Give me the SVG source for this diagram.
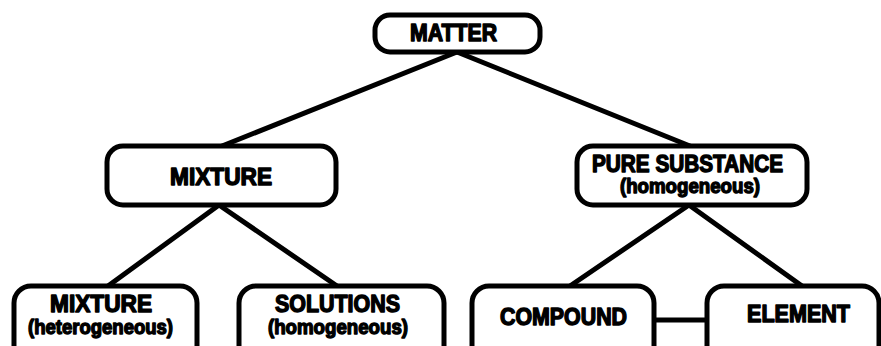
<svg xmlns="http://www.w3.org/2000/svg" width="881" height="346" viewBox="0 0 881 346">
<style>
.box{fill:#fff;stroke:#000;stroke-width:5}
.edge{stroke:#000;stroke-width:5;fill:none;stroke-linecap:round}
.t{font-family:"Liberation Sans","DejaVu Sans",sans-serif;font-weight:bold;font-size:23px;fill:#000;stroke:#000;stroke-width:1.4;stroke-linejoin:round}
.s{font-size:20px}
</style>
<rect width="881" height="346" fill="#fff"/>
<g id="connectors">
<line class="edge" x1="457" y1="52" x2="222" y2="146"/>
<line class="edge" x1="457" y1="52" x2="690" y2="146"/>
<line class="edge" x1="219" y1="205" x2="108" y2="286"/>
<line class="edge" x1="219" y1="205" x2="337" y2="286"/>
<line class="edge" x1="689" y1="205" x2="570" y2="286"/>
<line class="edge" x1="689" y1="205" x2="802" y2="286"/>
<line class="edge" x1="654" y1="320" x2="707" y2="320"/>
</g>
<g id="matter">
<rect class="box" x="375" y="15" width="165" height="37" rx="15"/>
<text class="t" x="410" y="41" textLength="87" lengthAdjust="spacingAndGlyphs">MATTER</text>
</g>
<g id="mixture">
<rect class="box" x="107" y="146" width="229" height="59" rx="16"/>
<text class="t" x="170" y="185" textLength="102" lengthAdjust="spacingAndGlyphs">MIXTURE</text>
</g>
<g id="pure-substance">
<rect class="box" x="577" y="146" width="230" height="59" rx="16"/>
<text class="t" x="592" y="172" textLength="191" lengthAdjust="spacingAndGlyphs">PURE SUBSTANCE</text>
<text class="t s" x="620" y="193" textLength="140" lengthAdjust="spacingAndGlyphs">(homogeneous)</text>
</g>
<g id="mixture-heterogeneous">
<rect class="box" x="14" y="286" width="183" height="80" rx="17"/>
<text class="t" x="50" y="312" textLength="102" lengthAdjust="spacingAndGlyphs">MIXTURE</text>
<text class="t s" x="28" y="334" textLength="145" lengthAdjust="spacingAndGlyphs">(heterogeneous)</text>
</g>
<g id="solutions">
<rect class="box" x="239" y="286" width="205" height="80" rx="17"/>
<text class="t" x="275" y="312" textLength="125" lengthAdjust="spacingAndGlyphs">SOLUTIONS</text>
<text class="t s" x="268" y="334" textLength="140" lengthAdjust="spacingAndGlyphs">(homogeneous)</text>
</g>
<g id="compound">
<rect class="box" x="472" y="286" width="182" height="80" rx="17"/>
<text class="t" x="500" y="325" textLength="127" lengthAdjust="spacingAndGlyphs">COMPOUND</text>
</g>
<g id="element">
<rect class="box" x="707" y="286" width="172" height="80" rx="17"/>
<text class="t" x="747" y="322" textLength="103" lengthAdjust="spacingAndGlyphs">ELEMENT</text>
</g>
</svg>
